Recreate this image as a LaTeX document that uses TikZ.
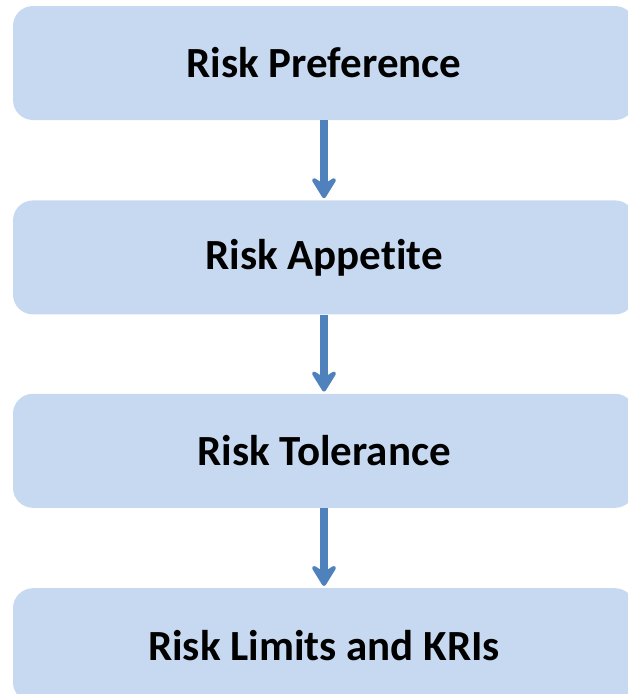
\documentclass[tikz,border=0pt]{standalone}
\usepackage{fontspec}
\setmainfont[Ligatures=NoCommon]{Carlito}
\usepackage{tikz}
\usetikzlibrary{arrows.meta,positioning}
\definecolor{boxblue}{RGB}{198,217,241}
\definecolor{arrowblue}{RGB}{79,129,189}
\tikzstyle{level} = [rectangle, rounded corners=20pt, fill=boxblue, minimum width=622pt, minimum height=114pt, inner sep=0pt, font=\fontsize{43}{48}\selectfont\bfseries]
\tikzstyle{arrow} = [line width=7.5pt, arrowblue, -{Stealth[length=26pt,width=32pt,inset=10pt,round]}, shorten >=2pt]

\begin{document}
\begin{tikzpicture}[x=1pt,y=-1pt,node distance=80pt]
            \useasboundingbox (0,0) rectangle (628,694);
            \clip (0,0) rectangle (628,694);
            \node[level] (pref) at (324,63) {Risk Preference};
            \node[level, below=of pref] (appetite) {Risk Appetite};
            \node[level, below=79pt of appetite] (tolerance) {Risk Tolerance};
            \node[level, below=of tolerance] (limits) {Risk Limits and KRIs};
            \draw[arrow] (pref) -- (appetite);
            \draw[arrow] (appetite) -- (tolerance);
            \draw[arrow] (tolerance) -- (limits);
        \end{tikzpicture}
\end{document}
